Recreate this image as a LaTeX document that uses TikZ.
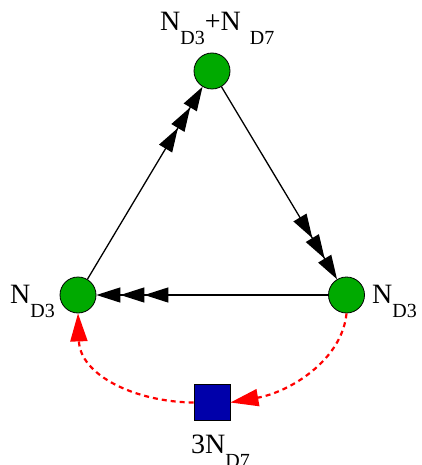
\documentclass[tikz,border=0pt]{standalone}
\usepackage{fontspec}
\setmainfont{Liberation Serif}
\usetikzlibrary{arrows.meta}
\newcommand\lsub[1]{\raisebox{-14pt}{\fontsize{20}{20}\selectfont #1}}
\definecolor{ngreen}{RGB}{0,170,0}
\definecolor{nblue}{RGB}{0,0,170}
\begin{document}
\begin{tikzpicture}[x=1pt,y=-1pt,
  state/.style={circle,draw=black,fill=ngreen,minimum size=36pt,inner sep=0pt,line width=0.8pt},
  sqbox/.style={rectangle,draw=black,fill=nblue,minimum size=36pt,inner sep=0pt,line width=0.8pt},
  lbl/.style={inner sep=0pt,anchor=base west,font=\fontsize{28}{28}\selectfont},
  tri/.style={line width=1.3pt,-{Triangle[length=24pt,width=15pt,sep=0pt]Triangle[length=24pt,width=15pt,sep=0pt]Triangle[length=24pt,width=15pt,sep=0pt]}},
  redc/.style={red,line width=2.2pt,dash pattern=on 5pt off 4pt,-{Triangle[length=28pt,width=17pt]}}
]
\useasboundingbox (0,0) rectangle (422,465);
\node[state] (T) at (212,71) {};
\node[state] (L) at (78,295) {};
\node[state] (R) at (346.5,295) {};
\node[sqbox] (S) at (212,402.5) {};
\draw[tri] (L) -- (T);
\draw[tri] (T) -- (R);
\draw[tri] (R) -- (L);
\draw[redc] (R.south) .. controls (342,360) and (290,392) .. (S.east);
\draw[redc] (S.west) .. controls (135,402) and (80,375) .. (L.south);
\node[lbl] (tl) at (160,31) {N\lsub{D3}+N\hspace{9pt}\lsub{D7}};
\node[lbl] (ll) at (10,303) {N\lsub{D3}};
\node[lbl] (rl) at (372,303) {N\lsub{D3}};
\node[lbl] (bl) at (191,453) {3N\lsub{D7}};
\end{tikzpicture}
\end{document}
